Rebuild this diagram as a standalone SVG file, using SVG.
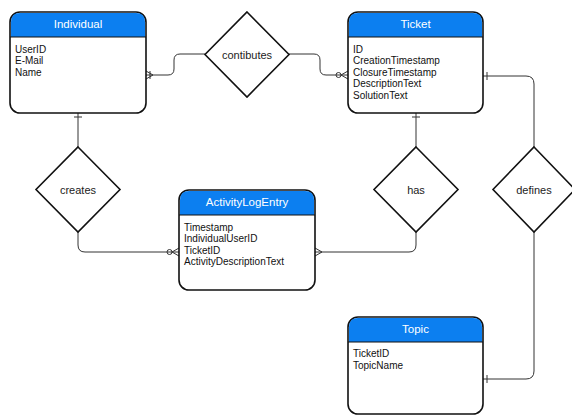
<svg xmlns="http://www.w3.org/2000/svg" width="572" height="417" viewBox="0 0 572 417">
<style>
.box{fill:#fff;stroke:#111;stroke-width:1.6}
.hdr{fill:#0c7ff0}
.sep{stroke:#111;stroke-width:1.2}
.ttl{font-family:"Liberation Sans",Arial,sans-serif;font-size:11.5px;fill:#fff;text-anchor:middle}
.att{font-family:"Liberation Sans",Arial,sans-serif;font-size:10px;fill:#111}
.dia{fill:#fff;stroke:#111;stroke-width:1.6}
.lbl{font-family:"Liberation Sans",Arial,sans-serif;font-size:11px;fill:#222;text-anchor:middle}
.con{fill:none;stroke:#333;stroke-width:1}
.mk{fill:none;stroke:#333;stroke-width:1}
</style>
<defs>
<marker id="one" markerUnits="userSpaceOnUse" markerWidth="20" markerHeight="20" viewBox="-15 -10 20 20" refX="0" refY="0" orient="auto" overflow="visible">
<path class="mk" d="M-4,-4 L-4,4"/>
</marker>
<marker id="many" markerUnits="userSpaceOnUse" markerWidth="20" markerHeight="20" viewBox="-15 -10 20 20" refX="0" refY="0" orient="auto" overflow="visible">
<path class="mk" d="M-7,0 L0,-4 M-7,0 L0,4"/>
</marker>
<marker id="onemany" markerUnits="userSpaceOnUse" markerWidth="20" markerHeight="20" viewBox="-15 -10 20 20" refX="0" refY="0" orient="auto" overflow="visible">
<path class="mk" d="M-7,0 L0,-4 M-7,0 L0,4 M-4,-4 L-4,4"/>
</marker>
<marker id="zeromany" markerUnits="userSpaceOnUse" markerWidth="20" markerHeight="20" viewBox="-15 -10 20 20" refX="0" refY="0" orient="auto" overflow="visible">
<path class="mk" d="M-7,0 L0,-4 M-7,0 L0,4"/>
<circle class="mk" cx="-9.5" cy="0" r="2.5" fill="#fff"/>
</marker>
</defs>
<rect width="572" height="417" fill="#fff"/>

<g id="connectors">
<path class="con" d="M205,54 L180,54 Q174,54 174,60 L174,69 Q174,75 168,75 L146,75" marker-end="url(#onemany)"/>
<path class="con" d="M289,54 L314,54 Q320,54 320,60 L320,69 Q320,75 326,75 L348,75" marker-end="url(#zeromany)"/>
<path class="con" d="M78,147 L78,113" marker-end="url(#one)"/>
<path class="con" d="M416,147 L416,113" marker-end="url(#one)"/>
<path class="con" d="M78,232 L78,245 Q78,252 85,252 L179,252" marker-end="url(#zeromany)"/>
<path class="con" d="M416,232 L416,245 Q416,252 409,252 L315,252" marker-end="url(#many)"/>
<path class="con" d="M534,147 L534,84 Q534,76 526,76 L483,76" marker-end="url(#one)"/>
<path class="con" d="M534,232 L534,371 Q534,379 526,379 L483,379" marker-end="url(#one)"/>
</g>

<g id="individual">
<rect class="box" x="10" y="12" width="136" height="101" rx="10"/>
<path class="hdr" d="M11,37 L11,22 Q11,13 20,13 L136,13 Q145,13 145,22 L145,37 Z"/>
<line class="sep" x1="10" y1="37" x2="146" y2="37"/>
<text class="ttl" x="78" y="28">Individual</text>
<text class="att" x="15" y="52.5">UserID</text>
<text class="att" x="15" y="64">E-Mail</text>
<text class="att" x="15" y="75.5">Name</text>
</g>

<g id="ticket">
<rect class="box" x="348" y="12" width="135" height="101" rx="10"/>
<path class="hdr" d="M349,37 L349,22 Q349,13 358,13 L473,13 Q482,13 482,22 L482,37 Z"/>
<line class="sep" x1="348" y1="37" x2="483" y2="37"/>
<text class="ttl" x="415.5" y="28">Ticket</text>
<text class="att" x="353" y="52.5">ID</text>
<text class="att" x="353" y="64">CreationTimestamp</text>
<text class="att" x="353" y="75.5">ClosureTimestamp</text>
<text class="att" x="353" y="87">DescriptionText</text>
<text class="att" x="353" y="98.5">SolutionText</text>
</g>

<g id="activitylogentry">
<rect class="box" x="179" y="190" width="136" height="100" rx="10"/>
<path class="hdr" d="M180,215 L180,200 Q180,191 189,191 L305,191 Q314,191 314,200 L314,215 Z"/>
<line class="sep" x1="179" y1="215" x2="315" y2="215"/>
<text class="ttl" x="247" y="206">ActivityLogEntry</text>
<text class="att" x="184" y="230.5">Timestamp</text>
<text class="att" x="184" y="242">IndividualUserID</text>
<text class="att" x="184" y="253.5">TicketID</text>
<text class="att" x="184" y="265">ActivityDescriptionText</text>
</g>

<g id="topic">
<rect class="box" x="348" y="317" width="135" height="97" rx="10"/>
<path class="hdr" d="M349,342 L349,327 Q349,318 358,318 L473,318 Q482,318 482,327 L482,342 Z"/>
<line class="sep" x1="348" y1="342" x2="483" y2="342"/>
<text class="ttl" x="415.5" y="333">Topic</text>
<text class="att" x="353" y="356.5">TicketID</text>
<text class="att" x="353" y="369">TopicName</text>
</g>

<g id="contibutes">
<polygon class="dia" points="247,12 289,54.5 247,97 205,54.5"/>
<text class="lbl" x="247" y="58.5">contibutes</text>
</g>
<g id="creates">
<polygon class="dia" points="78,147 120,189.5 78,232 36,189.5"/>
<text class="lbl" x="78" y="193.5">creates</text>
</g>
<g id="has">
<polygon class="dia" points="416,147 458,189.5 416,232 374,189.5"/>
<text class="lbl" x="416" y="193.5">has</text>
</g>
<g id="defines">
<polygon class="dia" points="534,147 575,189.5 534,232 493,189.5"/>
<text class="lbl" x="534" y="193.5">defines</text>
</g>
</svg>
